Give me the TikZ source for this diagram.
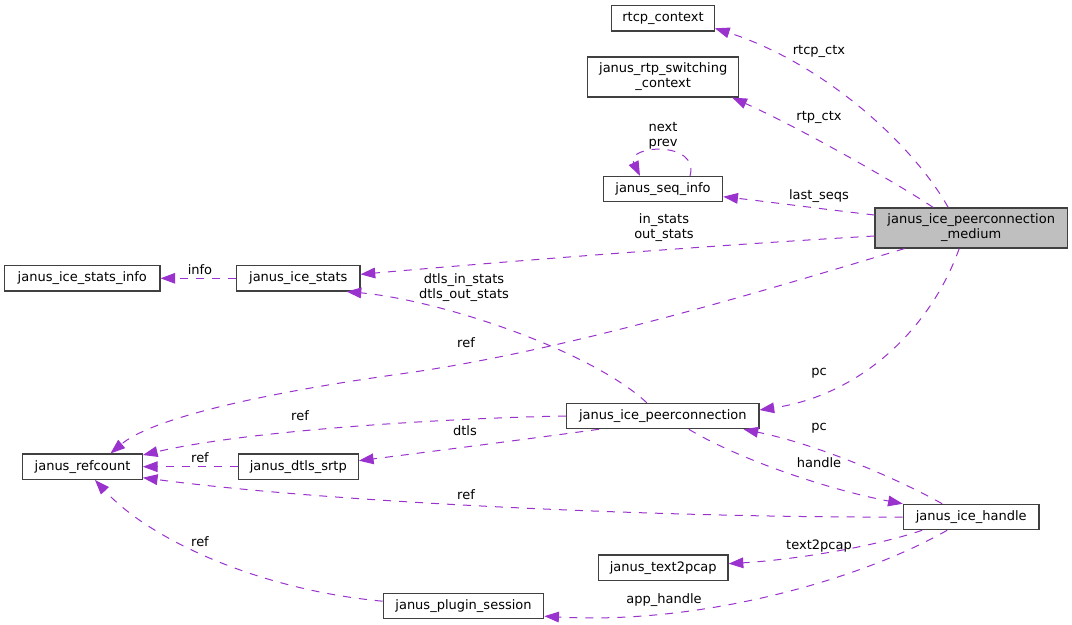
\documentclass[tikz,border=0pt]{standalone}
\usepackage{fontspec}
\setmainfont{DejaVu Sans}
\usetikzlibrary{arrows.meta,calc}
\definecolor{edgecol}{HTML}{9A32CD}
\definecolor{nodefill}{HTML}{BFBFBF}
\definecolor{nodeline}{HTML}{404040}
\begin{document}
\begin{tikzpicture}[x=0.75pt,y=-0.75pt,
  cls/.style={draw=nodeline, line width=0.9pt, rectangle, fill=white, inner sep=0pt, minimum height=19pt, font=\fontsize{9.75pt}{11.25pt}\selectfont, align=center},
  cls2/.style={cls, minimum height=30pt},
  lbl/.style={inner sep=0pt, font=\fontsize{9.75pt}{11.25pt}\selectfont, align=center},
  link/.style={draw=edgecol, line width=0.75pt, dash pattern=on 6pt off 6pt, -{Triangle[length=11pt,width=8pt]}}]
\useasboundingbox[fill=white] (0,0) rectangle (1072,625);

% nodes
\node[cls, minimum width=77pt] (rtcp) at (663,18.3) {rtcp\_context};
\node[cls2, minimum width=113.25pt] (rtpsw) at (663.2,77) {janus\_rtp\_switching\\\_context};
\node[cls, minimum width=89.5pt] (seq) at (663,189.2) {janus\_seq\_info};
\node[cls2, minimum width=144.2pt, fill=nodefill] (medium) at (971.2,228) {janus\_ice\_peerconnection\\\_medium};
\node[cls, minimum width=116.5pt] (statsinfo) at (82.3,278.3) {janus\_ice\_stats\_info};
\node[cls, minimum width=92.5pt] (stats) at (298.3,278.3) {janus\_ice\_stats};
\node[cls, minimum width=89.7pt] (refcount) at (82.5,466.7) {janus\_refcount};
\node[cls, minimum width=90pt] (dtls) at (298.3,466.7) {janus\_dtls\_srtp};
\node[cls, minimum width=144.2pt] (pc) at (662.8,416) {janus\_ice\_peerconnection};
\node[cls, minimum width=101.8pt] (handle) at (971.2,517) {janus\_ice\_handle};
\node[cls, minimum width=97.3pt] (text2pcap) at (663.2,567.7) {janus\_text2pcap};
\node[cls, minimum width=120.3pt] (plugin) at (463.5,606.2) {janus\_plugin\_session};

% connectors
\draw[link] ($(medium.north)+(-23,0)$) .. controls (910,140) and (820,62) .. ($(rtcp.east)+(0,10)$);
\draw[link] ($(medium.north)+(-38,0)$) .. controls (895,182) and (800,128) .. ($(rtpsw.south east)+(-7,0)$);
\draw[link] ($(medium.west)+(0,-13)$) .. controls (830,210) and (770,202) .. ($(seq.east)+(0,7.5)$);
\draw[link] ($(seq.north)+(27,0)$) .. controls (700,140) and (625,145) .. ($(seq.north)+(-23,0)$);
\draw[link] ($(medium.west)+(0,8)$) .. controls (700,246) and (500,262) .. ($(stats.east)+(0,-4)$);
\draw[link] (stats.west) -- (statsinfo.east);
\draw[link] ($(pc.north)+(-16,0)$) .. controls (590,350) and (440,300) .. ($(stats.south east)+(-14,0)$);
\coordinate (refmid) at (400,374);
\draw[link] ($(medium.south west)+(30,0)$) .. controls (750,295) and (560,352) .. (refmid) .. controls (250,395) and (150,420) .. ($(refcount.north)+(28,0)$);
\draw[link] (pc.west) .. controls (450,418) and (250,430) .. ($(refcount.east)+(0,-11.7)$);
\draw[link] ($(pc.south west)+(33,0)$) .. controls (520,440) and (420,453) .. ($(dtls.east)+(0,-6)$);
\draw[link] (dtls.west) -- (refcount.east);
\draw[link] (handle.west) .. controls (700,518) and (350,505) .. ($(refcount.east)+(0,11)$);
\draw[link] ($(plugin.west)+(0,-5)$) .. controls (260,590) and (150,540) .. ($(refcount.south)+(12.5,0)$);
\draw[link] ($(medium.south)+(-12,0)$) .. controls (930,330) and (860,395) .. ($(pc.east)+(0,-6)$);
\draw[link] ($(handle.north)+(-29,0)$) .. controls (900,480) and (820,445) .. ($(pc.south east)+(-16,0)$);
\draw[link] ($(pc.south)+(26,0)$) .. controls (740,460) and (830,490) .. (handle.north west);
\draw[link] ($(handle.south)+(-49,0)$) .. controls (870,548) and (790,560) .. ($(text2pcap.east)+(0,-4)$);
\draw[link] ($(handle.south)+(-24,0)$) .. controls (860,580) and (700,625) .. ($(plugin.east)+(0,10)$);

% labels
\node[lbl] (l-rtcp) at (819,51) {rtcp\_ctx};
\node[lbl] (l-rtp) at (819,117) {rtp\_ctx};
\node[lbl] (l-loop) at (663,136) {next\\prev};
\node[lbl] (l-seqs) at (819,196) {last\_seqs};
\node[lbl] (l-stats) at (664,228) {in\_stats\\out\_stats};
\node[lbl] (l-info) at (200,270) {info};
\node[lbl] (l-dstats) at (464,288) {dtls\_in\_stats\\dtls\_out\_stats};
\node[lbl] (l-ref1) at (466,343) {ref};
\node[lbl] (l-ref2) at (300,416) {ref};
\node[lbl] (l-dtls) at (465,431) {dtls};
\node[lbl] (l-ref3) at (200,458) {ref};
\node[lbl] (l-ref4) at (466,495) {ref};
\node[lbl] (l-ref5) at (200,542) {ref};
\node[lbl] (l-pc1) at (819,373) {pc};
\node[lbl] (l-pc2) at (819,428) {pc};
\node[lbl] (l-handle) at (819,463) {handle};
\node[lbl] (l-t2p) at (819,546) {text2pcap};
\node[lbl] (l-app) at (664,600) {app\_handle};
\end{tikzpicture}
\end{document}
